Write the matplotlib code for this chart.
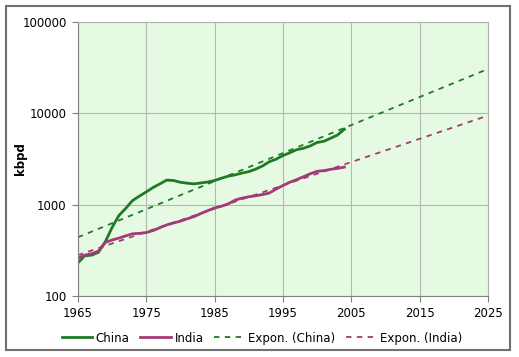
import numpy as np
import matplotlib
matplotlib.use('Agg')
import matplotlib.pyplot as plt
from matplotlib.patches import Rectangle

years = list(range(1965, 2005))

china = [230, 275, 280, 300, 390, 560, 760, 910, 1110, 1240,
         1380, 1540, 1690, 1860, 1840, 1760, 1720, 1690, 1730, 1770,
         1840, 1950, 2050, 2120, 2220, 2300, 2450, 2650, 2950, 3150,
         3450, 3700, 4000, 4150, 4400, 4800, 4950, 5350, 5800, 6700]

india = [260, 280, 290, 310, 385, 410, 430, 455, 480, 485,
         495, 520, 560, 600, 630, 660, 700, 740, 800, 860,
         920, 960, 1020, 1120, 1180, 1220, 1250, 1290, 1340, 1480,
         1620, 1760, 1880, 2020, 2180, 2320, 2360, 2440, 2500, 2580]

trend_years = [1965, 2025]

green = '#1f7a24'
purple = '#a33a78'

# exponential trendlines (fit on log, like Excel)
yr = np.array(years)
pc = np.polyfit(yr, np.log(china), 1)
pi = np.polyfit(yr, np.log(india), 1)
ty = np.array(trend_years, dtype=float)

fig = plt.figure(figsize=(5.19, 3.57), dpi=100)
ax = fig.add_axes([0.150, 0.171, 0.790, 0.767])
ax.set_facecolor('#e6fae3')

ax.plot(years, china, color=green, lw=2.0, label='China')
ax.plot(years, india, color=purple, lw=2.0, label='India')
ax.plot(ty, np.exp(np.polyval(pc, ty)), color=green, lw=1.3,
        dashes=(3, 3), label='Expon. (China)')
ax.plot(ty, np.exp(np.polyval(pi, ty)), color=purple, lw=1.3,
        dashes=(3, 3), label='Expon. (India)')

ax.set_yscale('log')
ax.set_ylim(100, 100000)
ax.set_xlim(1965, 2025)
ax.set_xticks(range(1965, 2026, 10))
ax.set_yticks([100, 1000, 10000, 100000])
ax.set_yticklabels(['100', '1000', '10000', '100000'])
ax.yaxis.set_minor_locator(matplotlib.ticker.NullLocator())
ax.grid(True, color='#b0bab0', lw=0.8)
ax.set_axisbelow(True)
ax.tick_params(labelsize=8.5, length=4, color='#808080', pad=4)
for s in ['top', 'right']:
    ax.spines[s].set_color('#b0b0b0')
for s in ['left', 'bottom']:
    ax.spines[s].set_color('#808080')
ax.set_ylabel('kbpd', fontsize=8.5, fontweight='bold')
ax.yaxis.set_label_coords(-0.125, 0.5)

fig.legend(loc='center', bbox_to_anchor=(0.505, 0.053), ncol=4,
           frameon=False, fontsize=8.5, handlelength=2.6,
           columnspacing=0.9, handletextpad=0.3)

fig.patches.append(Rectangle((0.011, 0.02), 0.972, 0.963, transform=fig.transFigure,
                             fill=False, edgecolor='#707070', lw=1.5))

fig.savefig('out.png', dpi=100)
